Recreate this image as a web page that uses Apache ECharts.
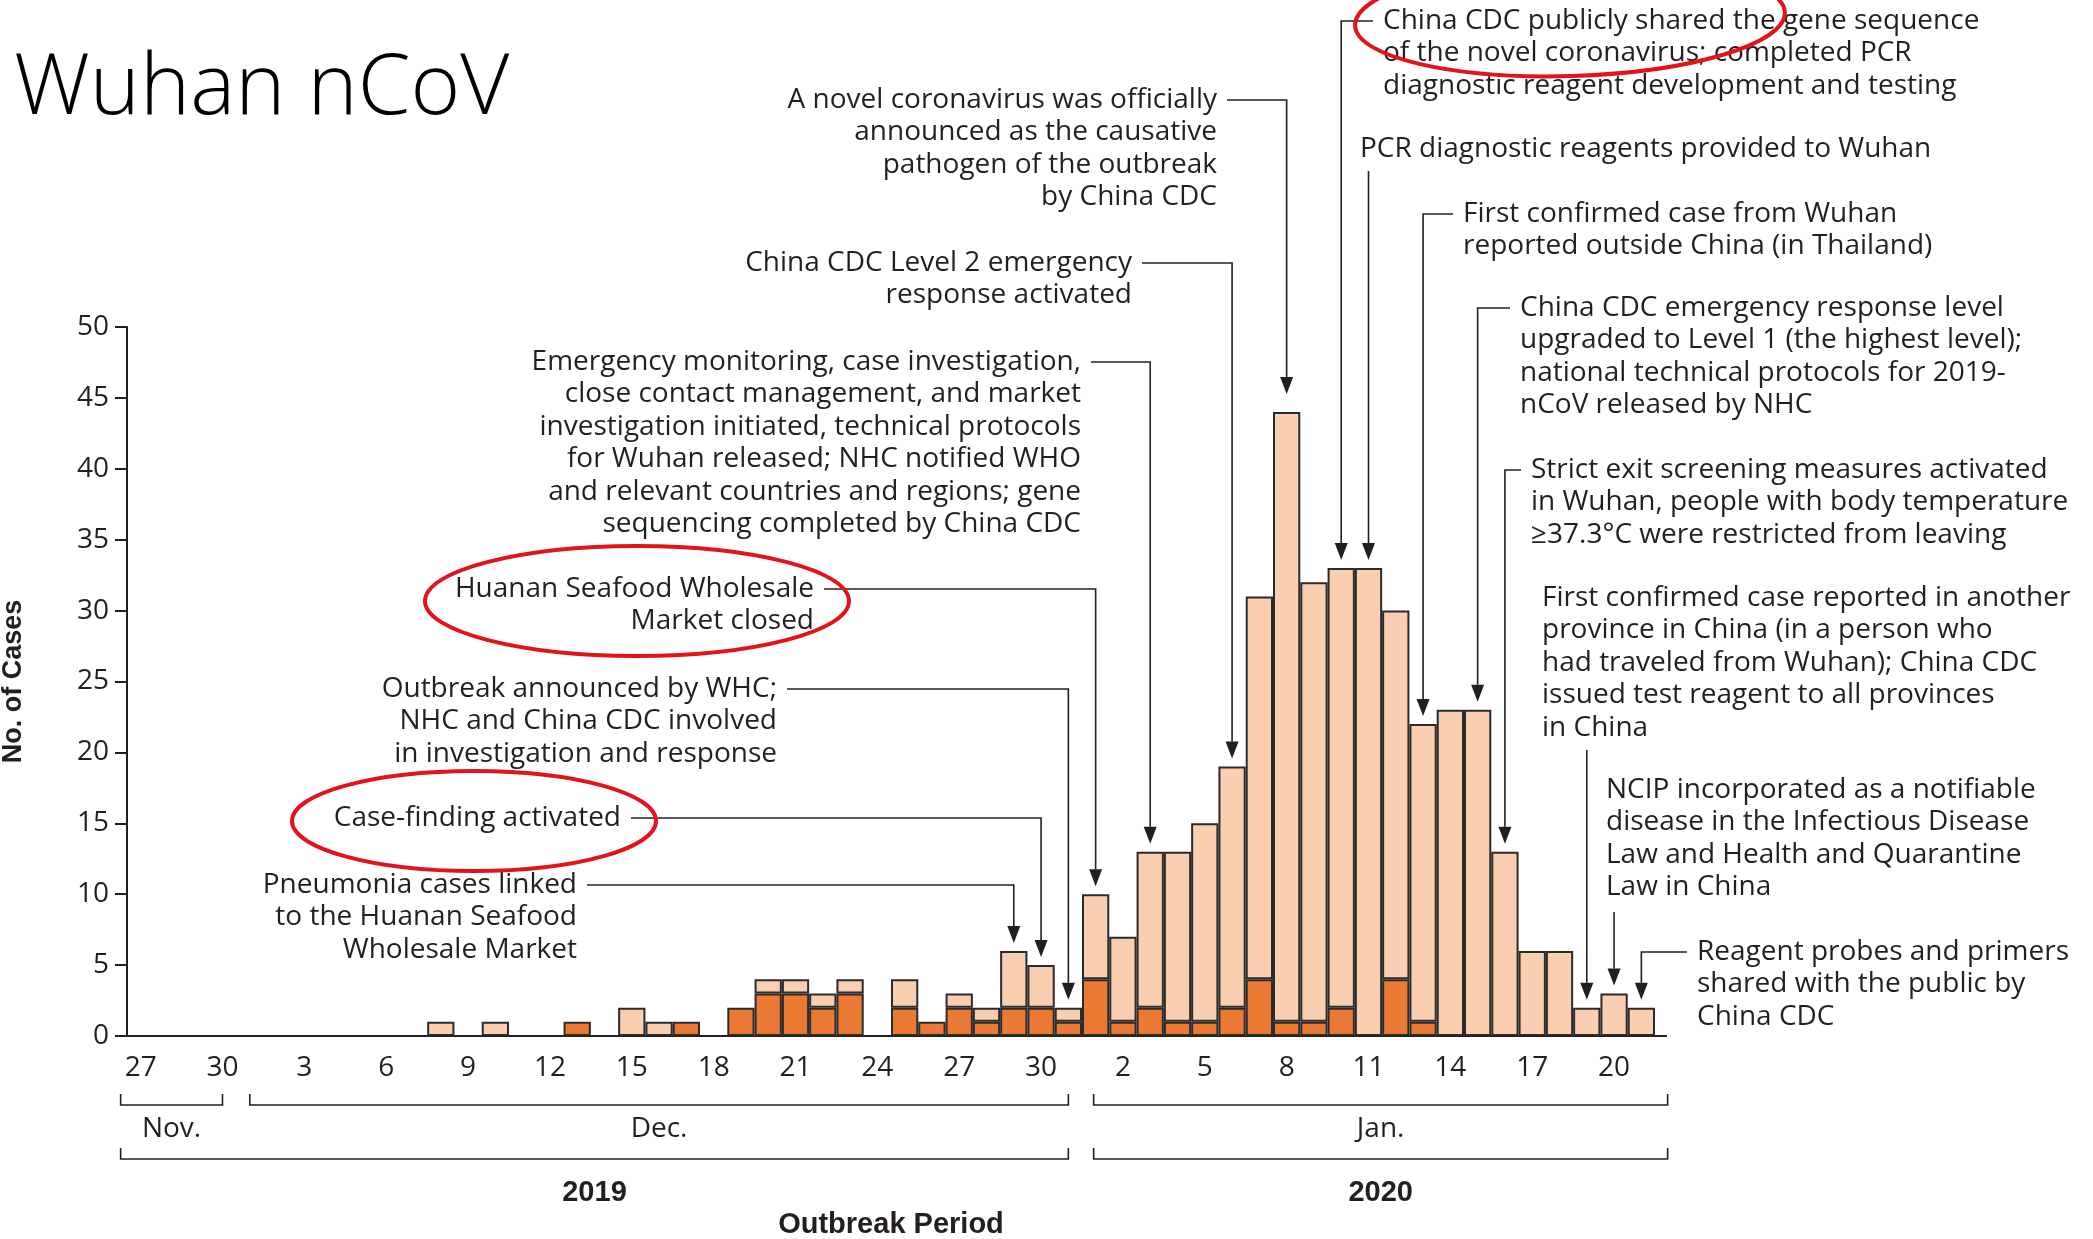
<!DOCTYPE html>
<html>
<head>
<meta charset="utf-8">
<title>Wuhan nCoV</title>
<script src="https://cdn.jsdelivr.net/npm/echarts@6/dist/echarts.min.js"></script>
<style>
  html, body { margin: 0; padding: 0; background: #fff; }
  #chart { width: 2093px; height: 1239px; }
</style>
</head>
<body>
<div id="chart"></div>
<script>
// days of the outbreak, Nov 27 2019 .. Jan 21 2020
var days = [
  'Nov 27', 'Nov 28', 'Nov 29', 'Nov 30',
  'Dec 1', 'Dec 2', 'Dec 3', 'Dec 4', 'Dec 5', 'Dec 6', 'Dec 7', 'Dec 8', 'Dec 9', 'Dec 10',
  'Dec 11', 'Dec 12', 'Dec 13', 'Dec 14', 'Dec 15', 'Dec 16', 'Dec 17', 'Dec 18', 'Dec 19', 'Dec 20',
  'Dec 21', 'Dec 22', 'Dec 23', 'Dec 24', 'Dec 25', 'Dec 26', 'Dec 27', 'Dec 28', 'Dec 29', 'Dec 30', 'Dec 31',
  'Jan 1', 'Jan 2', 'Jan 3', 'Jan 4', 'Jan 5', 'Jan 6', 'Jan 7', 'Jan 8', 'Jan 9', 'Jan 10',
  'Jan 11', 'Jan 12', 'Jan 13', 'Jan 14', 'Jan 15', 'Jan 16', 'Jan 17', 'Jan 18', 'Jan 19', 'Jan 20', 'Jan 21'
]
// cases linked to the Huanan market (dark)
var marketCases = [
  0, 0, 0, 0,
  0, 0, 0, 0, 0, 0, 0, 0, 0, 0,
  0, 0, 1, 0, 0, 0, 1, 0, 2, 3,
  3, 2, 3, 0, 2, 1, 2, 1, 2, 2, 1,
  4, 1, 2, 1, 1, 2, 4, 1, 1, 2,
  0, 4, 1, 0, 0, 0, 0, 0, 0, 0, 0
]
// other cases (light)
var otherCases = [
  0, 0, 0, 0,
  0, 0, 0, 0, 0, 0, 0, 1, 0, 1,
  0, 0, 0, 0, 2, 1, 0, 0, 0, 1,
  1, 1, 1, 0, 2, 0, 1, 1, 4, 3, 1,
  6, 6, 11, 12, 14, 17, 27, 43, 31, 31,
  33, 26, 21, 23, 23, 13, 6, 6, 2, 3, 2
]

// annotations: which day the arrow points to, and where the text sits
var notes = [
  { day: 'Dec 29', side: 'left', x: 577, y: 885, lines: ['Pneumonia cases linked', 'to the Huanan Seafood', 'Wholesale Market'] },
  { day: 'Dec 30', side: 'left', x: 621, y: 818, lines: ['Case-finding activated'] },
  { day: 'Dec 31', side: 'left', x: 777, y: 689, lines: ['Outbreak announced by WHC;', 'NHC and China CDC involved', 'in investigation and response'] },
  { day: 'Jan 1', side: 'left', x: 814, y: 589, lines: ['Huanan Seafood Wholesale', 'Market closed'] },
  { day: 'Jan 3', side: 'left', x: 1081, y: 362, lines: ['Emergency monitoring, case investigation,', 'close contact management, and market', 'investigation initiated, technical protocols', 'for Wuhan released; NHC notified WHO', 'and relevant countries and regions; gene', 'sequencing completed by China CDC'] },
  { day: 'Jan 6', side: 'left', x: 1132, y: 263, lines: ['China CDC Level 2 emergency', 'response activated'] },
  { day: 'Jan 8', side: 'left', x: 1217, y: 100, gap: 18, lines: ['A novel coronavirus was officially', 'announced as the causative', 'pathogen of the outbreak', 'by China CDC'] },
  { day: 'Jan 10', side: 'right', x: 1383, y: 21, lines: ['China CDC publicly shared the gene sequence', 'of the novel coronavirus; completed PCR', 'diagnostic reagent development and testing'] },
  { day: 'Jan 11', side: 'right', x: 1360, y: 149, drop: 171, lines: ['PCR diagnostic reagents provided to Wuhan'] },
  { day: 'Jan 13', side: 'right', x: 1463, y: 214, lines: ['First confirmed case from Wuhan', 'reported outside China (in Thailand)'] },
  { day: 'Jan 15', side: 'right', x: 1520, y: 308, lines: ['China CDC emergency response level', 'upgraded to Level 1 (the highest level);', 'national technical protocols for 2019-', 'nCoV released by NHC'] },
  { day: 'Jan 16', side: 'right', x: 1531, y: 470, lines: ['Strict exit screening measures activated', 'in Wuhan, people with body temperature', '\u226537.3\u00b0C were restricted from leaving'] },
  { day: 'Jan 19', side: 'right', x: 1542, y: 598, drop: 750, lines: ['First confirmed case reported in another', 'province in China (in a person who', 'had traveled from Wuhan); China CDC', 'issued test reagent to all provinces', 'in China'] },
  { day: 'Jan 20', side: 'right', x: 1606, y: 790, drop: 912, lines: ['NCIP incorporated as a notifiable', 'disease in the Infectious Disease', 'Law and Health and Quarantine', 'Law in China'] },
  { day: 'Jan 21', side: 'right', x: 1697, y: 952, lines: ['Reagent probes and primers', 'shared with the public by', 'China CDC'] }
]

var FONT = '"Open Sans", "Noto Sans", sans-serif'
var BOLD = '"Liberation Sans", Arial, sans-serif'
var INK = '#231f20'
var LH = 32.5

var chart = echarts.init(document.getElementById('chart'))

function noZero (arr) {
  return arr.map(function (v) { return v === 0 ? '-' : v })
}

chart.setOption({
  animation: false,
  textStyle: { fontFamily: FONT },
  grid: { left: 127, right: 438, top: 327, bottom: 203, containLabel: false, outerBoundsMode: 'none' },
  xAxis: {
    type: 'category',
    data: days,
    boundaryGap: true,
    axisLine: { lineStyle: { color: INK, width: 2 } },
    axisTick: { interval: 2, alignWithLabel: true, length: 10, lineStyle: { color: INK, width: 2 } },
    axisLabel: {
      interval: 2,
      margin: 18,
      color: INK,
      fontSize: 28,
      fontFamily: FONT,
      formatter: function (v) { return v.split(' ')[1] }
    },
    splitLine: { show: false }
  },
  yAxis: {
    type: 'value',
    min: 0,
    max: 50,
    interval: 5,
    name: 'No. of Cases',
    nameLocation: 'middle',
    nameGap: 100,
    nameTextStyle: { fontFamily: BOLD, fontWeight: 'bold', fontSize: 27, color: INK },
    axisLine: { show: true, lineStyle: { color: INK, width: 2 } },
    axisTick: { show: true, length: 12, lineStyle: { color: INK, width: 2 } },
    axisLabel: { margin: 18, color: INK, fontSize: 28, fontFamily: FONT },
    splitLine: { show: false }
  },
  series: [
    {
      name: 'Market',
      type: 'bar',
      stack: 'cases',
      barCategoryGap: 0,
      data: noZero(marketCases),
      itemStyle: { color: '#ea7a33', borderColor: '#2b2b2b', borderWidth: 2 }
    },
    {
      name: 'Other',
      type: 'bar',
      stack: 'cases',
      barCategoryGap: 0,
      data: noZero(otherCases),
      itemStyle: { color: '#f9ceb1', borderColor: '#2b2b2b', borderWidth: 2 }
    }
  ]
})

// pixel helpers from the chart's own axes
function px (i) { return chart.convertToPixel({ xAxisIndex: 0 }, i) }
function py (v) { return chart.convertToPixel({ yAxisIndex: 0 }, v) }

var band = px(1) - px(0)
var y0 = py(0)
var g = []

// title
g.push({
  type: 'text',
  style: { text: 'Wuhan nCoV', x: 14, y: 90, fill: '#000', fontSize: 85, fontWeight: 300, fontFamily: FONT, textAlign: 'left', align: 'left', textVerticalAlign: 'middle', verticalAlign: 'middle' }
})

// x axis runs a little past the last bar
g.push({ type: 'line', shape: { x1: px(days.length - 1) + band / 2, y1: y0, x2: px(days.length - 1) + band / 2 + 12, y2: y0 }, style: { stroke: INK, lineWidth: 2 } })

// annotations with leader lines and arrow heads
var HEAD_W = 13
var HEAD_H = 17
notes.forEach(function (n) {
  var i = days.indexOf(n.day)
  var ax = px(i)
  var tip = py(marketCases[i] + otherCases[i]) - (n.gap || 8)
  var align = n.side === 'left' ? 'right' : 'left'
  g.push({
    type: 'text',
    style: {
      text: n.lines.join('\n'),
      x: n.x,
      y: n.y - LH / 2,
      fill: INK,
      fontSize: 28,
      fontFamily: FONT,
      lineHeight: LH,
      textAlign: align,
      align: align,
      textVerticalAlign: 'top',
      verticalAlign: 'top'
    }
  })
  var pts
  if (n.drop) {
    pts = [[ax, n.drop], [ax, tip - HEAD_H]]
  } else {
    var sx = n.side === 'left' ? n.x + 10 : n.x - 10
    pts = [[sx, n.y], [ax, n.y], [ax, tip - HEAD_H]]
  }
  g.push({ type: 'polyline', shape: { points: pts }, style: { stroke: INK, lineWidth: 1.6, fill: null } })
  g.push({
    type: 'polygon',
    shape: { points: [[ax - HEAD_W / 2, tip - HEAD_H], [ax + HEAD_W / 2, tip - HEAD_H], [ax, tip]] },
    style: { fill: INK }
  })
})

// month and year brackets under the axis
function bracket (x1, x2, y) {
  g.push({ type: 'polyline', shape: { points: [[x1, y - 11], [x1, y], [x2, y], [x2, y - 11]] }, style: { stroke: INK, lineWidth: 1.6, fill: null } })
}
function label (text, x, y, bold, size) {
  g.push({
    type: 'text',
    style: {
      text: text, x: x, y: y, fill: INK,
      fontSize: size, fontWeight: bold ? 'bold' : 'normal', fontFamily: bold ? BOLD : FONT,
      textAlign: 'center', align: 'center', textVerticalAlign: 'middle', verticalAlign: 'middle'
    }
  })
}
var novL = px(0) - 20
var novR = px(days.indexOf('Nov 30'))
var decL = px(days.indexOf('Dec 1'))
var decR = px(days.indexOf('Dec 31'))
var janL = px(days.indexOf('Jan 1')) - 2
var janR = px(days.length - 1) + band - 1
bracket(novL, novR, 1105)
bracket(decL, decR, 1105)
bracket(janL, janR, 1105)
label('Nov.', (novL + novR) / 2, 1129, false, 28)
label('Dec.', (decL + decR) / 2, 1129, false, 28)
label('Jan.', (janL + janR) / 2, 1129, false, 28)
bracket(novL, decR, 1159)
bracket(janL, janR, 1159)
label('2019', (novL + decR) / 2, 1193, true, 29)
label('2020', (janL + janR) / 2, 1193, true, 29)
label('Outbreak Period', (px(0) - band / 2 + px(days.length - 1) + band / 2) / 2, 1225, true, 29)

// red hand-drawn circles
var RED = '#e3131b'
g.push({ type: 'ellipse', x: 1570, y: 19, rotation: 0.03, shape: { cx: 0, cy: 0, rx: 215, ry: 57 }, style: { fill: null, stroke: RED, lineWidth: 4 } })
g.push({ type: 'ellipse', x: 637, y: 601, shape: { cx: 0, cy: 0, rx: 212, ry: 55 }, style: { fill: null, stroke: RED, lineWidth: 4 } })
g.push({ type: 'ellipse', x: 474, y: 821, shape: { cx: 0, cy: 0, rx: 182, ry: 50 }, style: { fill: null, stroke: RED, lineWidth: 4 } })

chart.setOption({ graphic: g })
</script>
</body>
</html>
